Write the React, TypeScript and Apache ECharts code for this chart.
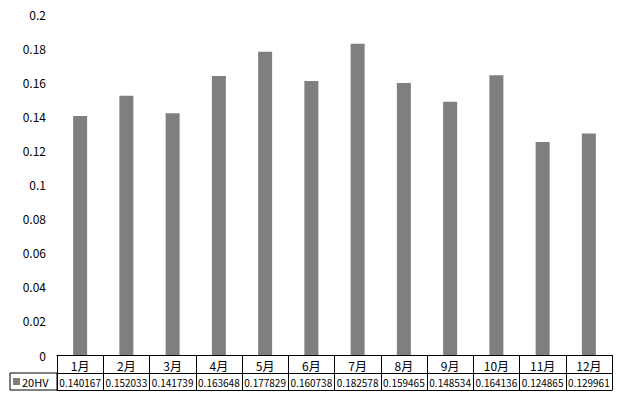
import React, { useEffect, useRef } from "react";
import * as echarts from "echarts";

const months = ["1月", "2月", "3月", "4月", "5月", "6月", "7月", "8月", "9月", "10月", "11月", "12月"];
const hvValues = [0.140167, 0.152033, 0.141739, 0.163648, 0.177829, 0.160738, 0.182578, 0.159465, 0.148534, 0.164136, 0.124865, 0.129961];
const seriesName = "20HV";

const FONT = "'Noto Sans CJK SC', sans-serif";

export default function App() {
  const ref = useRef<HTMLDivElement>(null);
  useEffect(() => {
    if (!ref.current) return;
    const chart = echarts.init(ref.current, null, { renderer: "svg" });
    chart.setOption({
      animation: false,
      backgroundColor: "#ffffff",
      grid: { left: 57, right: 8, top: 14, bottom: 45 },
      legend: {
        left: 13,
        top: 376,
        itemWidth: 7,
        itemHeight: 7,
        itemGap: 2,
        icon: "rect",
        textStyle: { fontFamily: FONT, fontSize: 11, color: "#000", padding: [0, 0, 0, -3] },
        padding: 0,
        data: [seriesName],
      },
      xAxis: [
        {
          type: "category",
          data: months,
          position: "bottom",
          axisLine: { show: true, lineStyle: { color: "#000", width: 1 } },
          axisTick: { show: true, interval: 0, length: 35, lineStyle: { color: "#000" } },
          axisLabel: { interval: 0, margin: 4, fontFamily: FONT, fontSize: 12, color: "#000" },
        },
        {
          type: "category",
          data: hvValues.map((v) => v.toFixed(6)),
          position: "bottom",
          offset: 18,
          axisLine: { show: true, lineStyle: { color: "#000", width: 1 } },
          axisTick: { show: false },
          axisLabel: { interval: 0, margin: 4, fontFamily: FONT, fontSize: 10, color: "#000" },
        },
        {
          type: "category",
          data: months,
          position: "bottom",
          offset: 35,
          axisLine: { show: true, lineStyle: { color: "#000", width: 1 } },
          axisTick: { show: false },
          axisLabel: { show: false },
        },
      ],
      yAxis: {
        type: "value",
        min: 0,
        max: 0.2,
        interval: 0.02,
        axisLine: { show: false },
        axisTick: { show: false },
        splitLine: { show: false },
        axisLabel: { margin: 11, fontFamily: FONT, fontSize: 12, color: "#000" },
      },
      graphic: [
        {
          type: "rect",
          shape: { x: 10, y: 373, width: 47, height: 17 },
          style: { fill: "none", stroke: "#000", lineWidth: 1 },
          silent: true,
        },
      ],
      series: [
        {
          name: seriesName,
          type: "bar",
          xAxisIndex: 0,
          data: hvValues,
          barWidth: 14,
          itemStyle: { color: "#7f7f7f" },
        },
      ],
    });
    return () => chart.dispose();
  }, []);
  return <div ref={ref} style={{ width: 620, height: 400, position: "absolute", left: 0, top: 0 }} />;
}
